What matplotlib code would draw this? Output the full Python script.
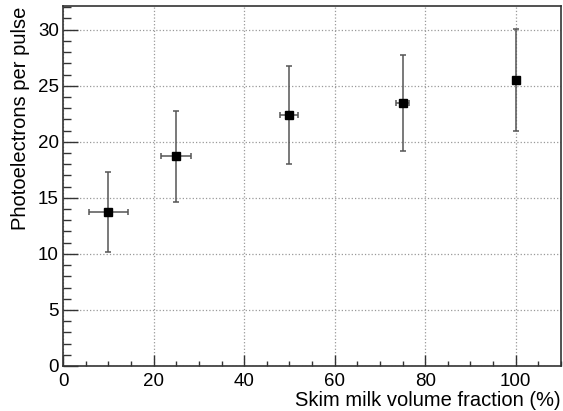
import matplotlib
matplotlib.use("Agg")
import matplotlib.pyplot as plt
from matplotlib.ticker import MultipleLocator

# skim milk fraction (%) and measured photoelectrons per pulse
fraction = [10, 25, 50, 75, 100]
fraction_err = [4.3, 3.3, 2.0, 1.4, 0.0]
pe = [13.75, 18.7, 22.4, 23.45, 25.5]
pe_err = [3.55, 4.05, 4.35, 4.3, 4.55]

plt.rcParams["font.family"] = ["Liberation Sans", "DejaVu Sans"]

fig = plt.figure(figsize=(5.63, 4.11), dpi=100)
ax = fig.add_axes([0.112, 0.1095, 0.8845, 0.8755])

ax.errorbar(fraction, pe, xerr=fraction_err, yerr=pe_err, fmt="s", color="black",
            ecolor="#555555", elinewidth=1.1, capsize=2, capthick=1.1,
            markersize=6.3, zorder=3)

ax.set_xlim(0, 110)
ax.set_ylim(0, 32.1)
ax.xaxis.set_major_locator(MultipleLocator(20))
ax.xaxis.set_minor_locator(MultipleLocator(5))
ax.yaxis.set_major_locator(MultipleLocator(5))
ax.yaxis.set_minor_locator(MultipleLocator(1))
ax.tick_params(which="both", direction="in", top=False, right=False,
               labelsize=13.5, width=1.0, color="#333333")
ax.tick_params(axis="x", which="major", length=8, pad=5)
ax.tick_params(axis="x", which="minor", length=3.6)
ax.tick_params(axis="y", which="major", length=10.8, pad=3)
ax.tick_params(axis="y", which="minor", length=5.4)
ax.grid(True, which="major", linestyle=":", color="#999999", linewidth=0.9)
for spine in ax.spines.values():
    spine.set_linewidth(1.2)
    spine.set_color("#333333")

ax.set_xlabel("Skim milk volume fraction (%)", fontsize=14.5, loc="right", labelpad=1)
ax.set_ylabel("Photoelectrons per pulse", fontsize=14.5, loc="top", labelpad=6)

fig.savefig("out.png", dpi=100)
